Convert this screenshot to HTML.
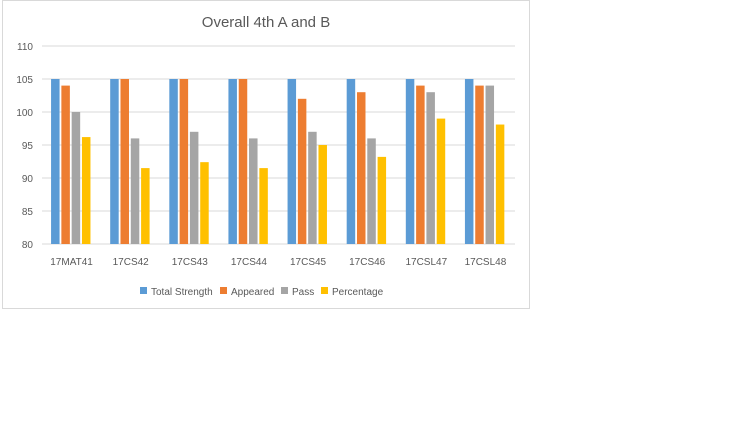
<!DOCTYPE html>
<html><head><meta charset="utf-8"><style>
body{margin:0;background:#fff;width:750px;height:421px;overflow:hidden;font-family:"Liberation Sans",sans-serif}
</style></head><body>
<svg width="750" height="421">
<rect x="2.5" y="0.5" width="527" height="308" fill="#fff" stroke="#d9d9d9"/>
<text x="266" y="27" text-anchor="middle" font-size="15" fill="#595959">Overall 4th A and B</text>
<g id="grid"></g><g id="bars"></g><g id="xl"></g>
<g font-size="10" fill="#595959">
<g><rect x="140" y="287" width="7" height="7" fill="#5b9bd5"/><text x="151" y="295">Total Strength</text></g>
<g><rect x="220" y="287" width="7" height="7" fill="#ed7d31"/><text x="231" y="295">Appeared</text></g>
<g><rect x="281" y="287" width="7" height="7" fill="#a5a5a5"/><text x="292" y="295">Pass</text></g>
<g><rect x="321" y="287" width="7" height="7" fill="#ffc000"/><text x="332" y="295">Percentage</text></g>
</g>
</svg>
<script>
const categories=["17MAT41","17CS42","17CS43","17CS44","17CS45","17CS46","17CSL47","17CSL48"];
const totalStrength=[105,105,105,105,105,105,105,105];
const appeared=[104,105,105,105,102,103,104,104];
const pass=[100,96,97,96,97,96,103,104];
const percentage=[96.2,91.5,92.4,91.5,95,93.2,99,98.1];
const yTicks=[80,85,90,95,100,105,110];
const NS="http://www.w3.org/2000/svg";
const x0=42,x1=515,yMin=80,yMax=110,yTop=46,yBot=244;
const y=v=>yBot-(v-yMin)/(yMax-yMin)*(yBot-yTop);
const bw=(x1-x0)/categories.length;
function mk(t,a,p){const e=document.createElementNS(NS,t);for(const k in a)e.setAttribute(k,a[k]);p.appendChild(e);return e;}
const grid=document.getElementById('grid');
yTicks.forEach(v=>{
 const l=mk('line',{x1:x0,x2:x1,y1:y(v),y2:y(v),stroke:'#d9d9d9'},grid);
 
 
 const t=mk('text',{x:33,y:y(v)+4,'text-anchor':'end','font-size':10,fill:'#595959'},grid);
 t.textContent=v;
 
 
});
const series=[[totalStrength,'#5b9bd5'],[appeared,'#ed7d31'],[pass,'#a5a5a5'],[percentage,'#ffc000']];
const bars=document.getElementById('bars'),xl=document.getElementById('xl');
categories.forEach((c,i)=>{
 const cx=x0+bw*(i+0.5);
 series.forEach((s,j)=>{
  const bx=cx-20.5+j*10.3;
  const r=mk('rect',{x:bx,y:y(s[0][i]),width:8.5,height:yBot-y(s[0][i]),fill:s[1]},bars);
  
  
 });
 const t=mk('text',{x:cx,y:265,'text-anchor':'middle','font-size':10,fill:'#595959'},xl);
 t.textContent=c;
 
 
});
</script>
</body></html>
